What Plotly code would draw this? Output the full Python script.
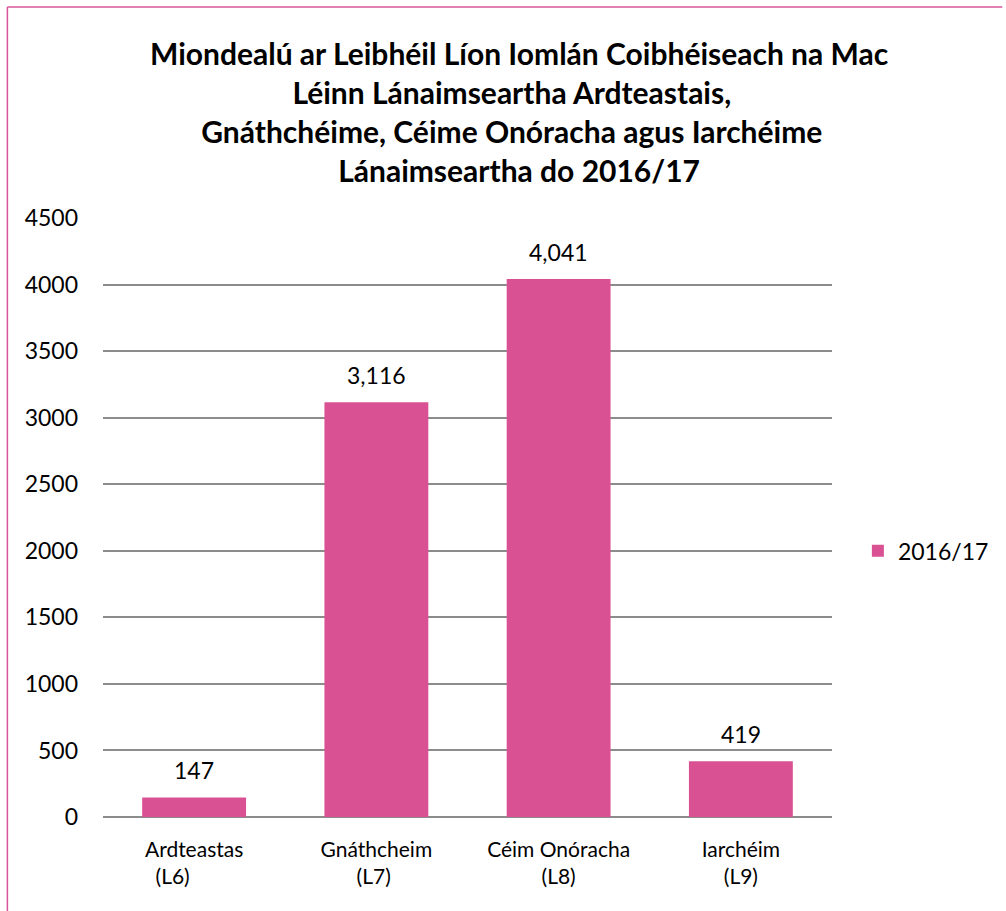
import plotly.graph_objects as go

categories = ["Ardteastas<br>(L6)\u00a0\u00a0\u00a0\u00a0\u00a0\u00a0\u00a0\u00a0", "Gnáthcheim<br>(L7)\u00a0", "Céim Onóracha<br>(L8)", "Iarchéim<br>(L9)"]
values = [147, 3116, 4041, 419]
series_name = "2016/17"
title_lines = [
    "Miondealú ar Leibhéil Líon Iomlán Coibhéiseach na Mac",
    "Léinn Lánaimseartha Ardteastais,\u00a0\u00a0",
    "Gnáthchéime, Céime Onóracha agus Iarchéime\u00a0\u00a0",
    "Lánaimseartha do 2016/17",
]
tick_vals = [0, 500, 1000, 1500, 2000, 2500, 3000, 3500, 4000, 4500]

FONT = "Lato"
BAR = "#DA5193"
W, H = 1006, 911
L, R, T, B = 103, 171, 218, 94
pw, ph = W - L - R, H - T - B

fig = go.Figure()
fig.add_trace(go.Bar(
    x=categories, y=values, name=series_name,
    marker=dict(color=BAR, line=dict(width=0)),
))

# value labels
for c, v in zip(categories, values):
    fig.add_annotation(
        x=c, y=v, xref="x", yref="y", text=f"{v:,}", showarrow=False,
        yanchor="bottom", yshift=11,
        font=dict(family=FONT, size=23, color="#000"),
    )

# title
fig.add_annotation(
    xref="paper", yref="paper", x=(521 - L) / pw, y=(H - B - 111) / ph,
    xanchor="center", yanchor="middle", align="center", showarrow=False,
    text="<br>".join(f"<b>{t}</b>" for t in title_lines),
    font=dict(family=FONT, size=30, color="#000"),
)

fig.update_layout(
    width=W, height=H,
    margin=dict(l=L, r=R, t=T, b=B),
    paper_bgcolor="white", plot_bgcolor="white",
    bargap=0.43,
    showlegend=True,
    legend=dict(
        x=1.0355, xanchor="left", y=2000 / 4500, yanchor="middle",
        font=dict(family=FONT, size=23, color="#000"),
        itemwidth=30, bgcolor="rgba(0,0,0,0)",
    ),
    xaxis=dict(
        showgrid=False, showline=False, ticks="",
        tickfont=dict(family=FONT, size=21, color="#000"),
        ticklabelstandoff=18,
    ),
    yaxis=dict(
        range=[0, 4500], tickvals=tick_vals,
        showgrid=True, gridcolor="#8C8C8C", gridwidth=1.5,
        zeroline=True, zerolinecolor="#8C8C8C", zerolinewidth=2,
        showline=False, ticks="",
        tickfont=dict(family=FONT, size=23, color="#000"),
        ticklabelstandoff=24,
    ),
)

# outer frame (left & top edges visible)
bx0 = (7 - L) / pw
by0 = (H - B - 7) / ph
bx1 = (W - L) / pw
by1 = (H - B - H) / ph
fig.add_shape(type="line", xref="paper", yref="paper", x0=bx0, y0=by0, x1=bx1, y1=by0,
              line=dict(color="#D9559A", width=1.5))
fig.add_shape(type="line", xref="paper", yref="paper", x0=bx0, y0=by0, x1=bx0, y1=by1,
              line=dict(color="#D9559A", width=1.5))

fig.write_html("out.html", config={"displayModeBar": False},
               post_script="document.body.style.margin='0';")
